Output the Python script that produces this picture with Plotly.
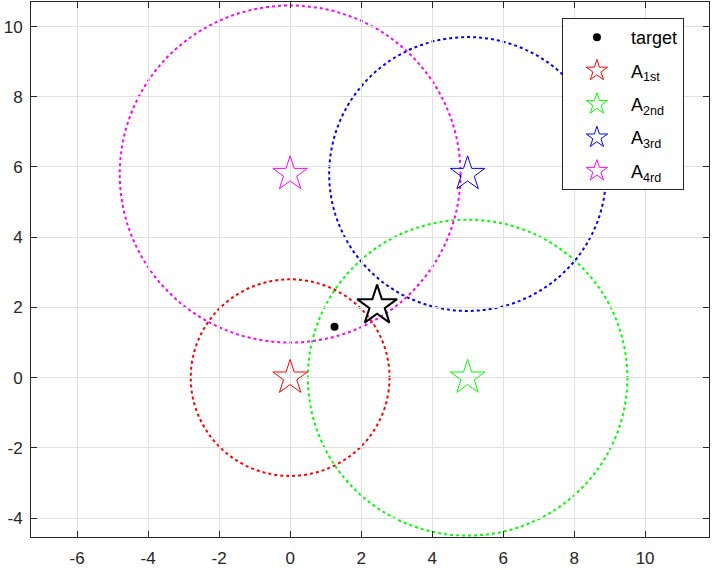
import plotly.graph_objects as go

# anchors (stars) and circle radii
anchor_names = ['A<sub>1st</sub>', 'A<sub>2nd</sub>', 'A<sub>3rd</sub>', 'A<sub>4rd</sub>']
anchor_x = [0, 5, 5, 0]
anchor_y = [0, 0, 5.8, 5.8]
radii = [2.8, 4.5, 3.9, 4.8]
colors = ['#ff0000', '#00ff00', '#0000ff', '#ff00ff']

target_x = [1.25]
target_y = [1.45]
estimate_x = [2.45]
estimate_y = [2.05]

x_ticks = [-6, -4, -2, 0, 2, 4, 6, 8, 10]
y_ticks = [-4, -2, 0, 2, 4, 6, 8, 10]
x_labels = [str(v) for v in x_ticks]   # plain hyphen minus, like the original
y_labels = [str(v) for v in y_ticks]

fig = go.Figure()

fig.add_trace(go.Scatter(
    x=target_x, y=target_y, mode='markers', name='target', legendgroup='t',
    marker=dict(color='black', size=8, symbol='circle')
))

for name, ax, ay, c in zip(anchor_names, anchor_x, anchor_y, colors):
    fig.add_trace(go.Scatter(
        x=[ax], y=[ay], mode='markers', name=name, legendgroup=name,
        marker=dict(symbol='star-open', size=26, color=c, line=dict(width=1, color=c))
    ))

fig.add_trace(go.Scatter(
    x=estimate_x, y=estimate_y, mode='markers', showlegend=False,
    marker=dict(symbol='star-open', size=30, color='black', line=dict(width=2, color='black'))
))

# dotted circles around each anchor
for ax, ay, r, c in zip(anchor_x, anchor_y, radii, colors):
    fig.add_shape(type='circle', xref='x', yref='y',
                  x0=ax - r, x1=ax + r, y0=ay - r, y1=ay + r,
                  line=dict(color=c, width=2, dash='dot'), layer='below')

axis_style = dict(
    showgrid=True, gridcolor='#e0e0e0', gridwidth=1,
    zeroline=False, showline=True, linecolor='#262626', linewidth=1,
    mirror='ticks', ticks='inside', ticklen=6, tickcolor='#262626',
    tickfont=dict(size=17, color='#262626'), automargin=False,
    tickmode='array',
)

fig.update_layout(
    width=712, height=570,
    margin=dict(l=31, r=3, t=2, b=33),
    plot_bgcolor='white', paper_bgcolor='white',
    font=dict(family='Liberation Sans, Arial, sans-serif', color='black'),
    xaxis=dict(range=[-7.3, 11.8], tickvals=x_ticks, ticktext=x_labels, ticklabelstandoff=6, **axis_style),
    yaxis=dict(range=[-4.54, 10.7], tickvals=y_ticks, ticktext=y_labels, ticklabelstandoff=4, **axis_style),
    legend=dict(
        x=0.963, y=0.970, xanchor='right', yanchor='top',
        bgcolor='white', bordercolor='#262626', borderwidth=1,
        font=dict(size=18), tracegroupgap=7, itemwidth=58,
    ),
)

# drop the page's default body margin so the figure sits at the window corner
fig.write_html('out.html', config={'displayModeBar': False},
               post_script="document.body.style.margin='0';")
